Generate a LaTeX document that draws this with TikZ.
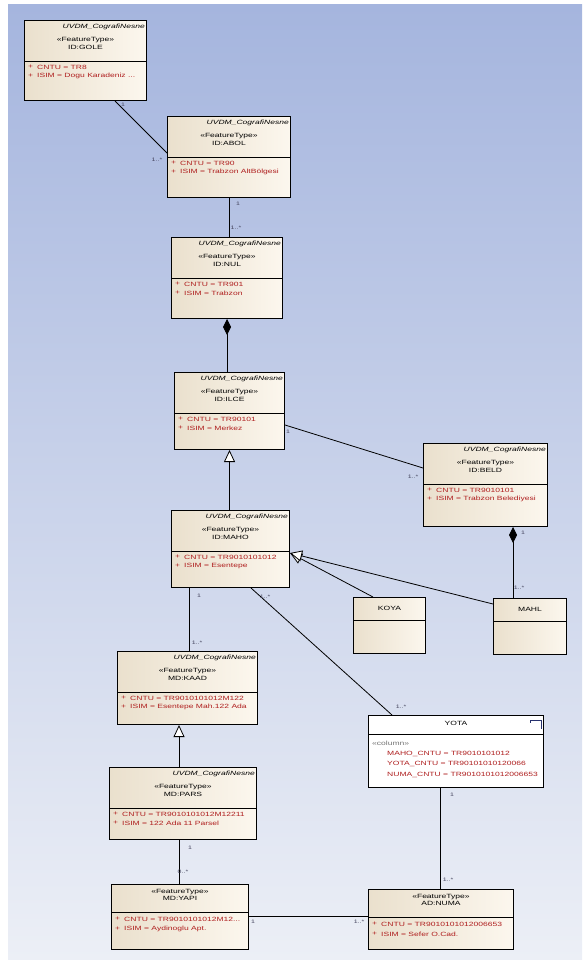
\documentclass[tikz,border=0pt]{standalone}
\usepackage{fontspec}
\setmainfont{Liberation Sans}
\newfontfamily\umlf[FakeStretch=1.4]{Liberation Sans}
\usetikzlibrary{arrows.meta,calc}
\definecolor{bgtop}{RGB}{165,181,222}
\definecolor{bgbot}{RGB}{236,239,246}
\definecolor{boxl}{RGB}{234,224,205}
\definecolor{boxr}{RGB}{252,247,238}
\definecolor{attrc}{RGB}{175,30,30}
\definecolor{lblc}{RGB}{70,70,95}
\definecolor{iconc}{RGB}{40,50,110}
\tikzset{
  umlbox/.style={draw=black, line width=1pt, left color=boxl, right color=boxr, inner sep=0pt},
  plainbox/.style={draw=black, line width=1pt, fill=white, inner sep=0pt},
  txt/.style={font=\umlf\fontsize{6.1}{6.3}\selectfont, inner sep=0pt},
  hdr/.style={font=\umlf\itshape\fontsize{6.1}{6.3}\selectfont, inner sep=0pt},
  attrtxt/.style={txt, text=attrc},
  coltxt/.style={txt, text=black!55},
  mult/.style={font=\umlf\fontsize{5}{5}\selectfont, text=lblc, inner sep=0pt},
  conn/.style={draw=black, line width=0.8pt},
  comp/.style={conn, {Diamond[length=16pt,width=8pt]}-},
  gen/.style={conn, -{Triangle[length=12pt,width=11pt,fill=white]}},
}
% #1 name #2 x #3 y #4 w #5 h #6 id #7 attr1 #8 attr2
\newcommand\umlclass[8]{%
  \node[umlbox, anchor=north west, minimum width=#4pt, minimum height=#5pt] (#1) at (#2,#3) {};
  \draw[line width=0.8pt] ([yshift=-41pt]#1.north west) -- ([yshift=-41pt]#1.north east);
  \node[hdr, anchor=north east] (#1-h) at ([xshift=-2pt,yshift=-4pt]#1.north east) {UVDM\_CografiNesne};
  \node[txt] (#1-s) at ([yshift=-20pt]#1.north) {«FeatureType»};
  \node[txt] (#1-n) at ([yshift=-27pt]#1.north) {#6};
  \node[attrtxt, anchor=west] (#1-p1) at ([xshift=4pt,yshift=-47pt]#1.north west) {+};
  \node[attrtxt, anchor=west] (#1-a1) at ([xshift=13pt,yshift=-47pt]#1.north west) {#7};
  \node[attrtxt, anchor=west] (#1-p2) at ([xshift=4pt,yshift=-56pt]#1.north west) {+};
  \node[attrtxt, anchor=west] (#1-a2) at ([xshift=13pt,yshift=-56pt]#1.north west) {#8};
}
\newcommand\umlshort[8]{%
  \node[umlbox, anchor=north west, minimum width=#4pt, minimum height=#5pt] (#1) at (#2,#3) {};
  \draw[line width=0.8pt] ([yshift=-28pt]#1.north west) -- ([yshift=-28pt]#1.north east);
  \node[txt] (#1-s) at ([yshift=-8pt]#1.north) {«FeatureType»};
  \node[txt] (#1-n) at ([yshift=-14pt]#1.north) {#6};
  \node[attrtxt, anchor=west] (#1-p1) at ([xshift=4pt,yshift=-35pt]#1.north west) {+};
  \node[attrtxt, anchor=west] (#1-a1) at ([xshift=13pt,yshift=-35pt]#1.north west) {#7};
  \node[attrtxt, anchor=west] (#1-p2) at ([xshift=4pt,yshift=-45pt]#1.north west) {+};
  \node[attrtxt, anchor=west] (#1-a2) at ([xshift=13pt,yshift=-45pt]#1.north west) {#8};
}
\newcommand\umlempty[6]{%
  \node[umlbox, anchor=north west, minimum width=#4pt, minimum height=#5pt] (#1) at (#2,#3) {};
  \draw[line width=0.8pt] ([yshift=-23pt]#1.north west) -- ([yshift=-23pt]#1.north east);
  \node[txt] (#1-n) at ([yshift=-11pt]#1.north) {#6};
}
\begin{document}
\begin{tikzpicture}[x=1pt,y=-1pt]
\useasboundingbox (0,0) rectangle (582,960);
\fill[white] (0,0) rectangle (582,960);
\shade[top color=bgtop, bottom color=bgbot] (8,5) rectangle (582,960);

\umlclass{gole}{24}{20}{122}{80}{ID:GOLE}{CNTU = TR8}{ISIM = Dogu Karadeniz ...}
\umlclass{abol}{167}{116}{123}{81}{ID:ABOL}{CNTU = TR90}{ISIM = Trabzon AltBölgesi}
\umlclass{nul}{171}{237}{111}{81}{ID:NUL}{CNTU = TR901}{ISIM = Trabzon}
\umlclass{ilce}{174}{372}{110}{77}{ID:ILCE}{CNTU = TR90101}{ISIM = Merkez}
\umlclass{beld}{423}{443}{124}{83}{ID:BELD}{CNTU = TR9010101}{ISIM = Trabzon Belediyesi}
\umlclass{maho}{171}{510}{118}{77}{ID:MAHO}{CNTU = TR9010101012}{ISIM = Esentepe}
\umlclass{kaad}{117}{651}{140}{73}{MD:KAAD}{CNTU = TR9010101012M122}{ISIM = Esentepe Mah.122 Ada}
\umlclass{pars}{109}{767}{147}{72}{MD:PARS}{CNTU = TR9010101012M12211}{ISIM = 122 Ada 11 Parsel}
\umlshort{yapi}{111}{884}{137}{65}{MD:YAPI}{CNTU = TR9010101012M12...}{ISIM = Aydinoglu Apt.}
\umlshort{numa}{368}{889}{145}{60}{AD:NUMA}{CNTU = TR9010101012006653}{ISIM = Sefer O.Cad.}
\umlempty{koya}{353}{597}{72}{56}{KOYA}
\umlempty{mahl}{493}{598}{73}{56}{MAHL}

% YOTA table
\node[plainbox, anchor=north west, minimum width=175pt, minimum height=72pt] (yota) at (368,715) {};
\draw[line width=0.8pt] ([yshift=-19pt]yota.north west) -- ([yshift=-19pt]yota.north east);
\node[txt] (yota-n) at ([yshift=-8pt]yota.north) {YOTA};
\draw[iconc, line width=0.9pt] ([xshift=-14pt,yshift=-5pt]yota.north east) -- ([xshift=-3pt,yshift=-5pt]yota.north east) -- ([xshift=-3pt,yshift=-14pt]yota.north east);
\draw[iconc, line width=0.5pt] ([xshift=-14pt,yshift=-5pt]yota.north east) -- ([xshift=-14pt,yshift=-8pt]yota.north east);
\node[coltxt, anchor=west] (yota-c) at ([xshift=4pt,yshift=-28pt]yota.north west) {«column»};
\node[attrtxt, anchor=west] (yota-a1) at ([xshift=19pt,yshift=-39pt]yota.north west) {MAHO\_CNTU = TR9010101012};
\node[attrtxt, anchor=west] (yota-a2) at ([xshift=19pt,yshift=-49pt]yota.north west) {YOTA\_CNTU = TR90101010120066};
\node[attrtxt, anchor=west] (yota-a3) at ([xshift=19pt,yshift=-60pt]yota.north west) {NUMA\_CNTU = TR9010101012006653};

% connectors
\draw[conn] ([xshift=91pt]gole.south west) -- ([yshift=-37pt]abol.north west);
\draw[conn] (abol.south) -- (abol.south |- nul.north);
\draw[comp] (nul.south) -- (nul.south |- ilce.north);
\draw[gen] (ilce.south |- maho.north) -- (ilce.south);
\draw[conn] ([yshift=-53pt]ilce.north east) -- ([yshift=-25pt]beld.north west);
\draw[comp] ([xshift=90pt]beld.south west) -- ([xshift=20pt]mahl.north west);
\draw[gen] ([xshift=20pt]koya.north west) -- ([yshift=-43pt]maho.north east);
\draw[gen] ([yshift=-6pt]mahl.north west) -- ([yshift=-43pt]maho.north east);
\draw[conn] ([xshift=18pt]maho.south west) -- ([xshift=72pt]kaad.north west);
\draw[conn] ([xshift=80pt]maho.south west) -- ([xshift=24pt]yota.north west);
\draw[gen] ([xshift=70pt]pars.north west) -- ([xshift=62pt]kaad.south west);
\draw[conn] ([xshift=70pt]pars.south west) -- ([xshift=68pt]yapi.north west);
\draw[conn] ([yshift=-32pt]yapi.north east) -- ([yshift=-27pt]numa.north west);
\draw[conn] ([xshift=72pt]yota.south west) -- ([xshift=72pt]numa.north west);

% multiplicities
\node[mult] (m1) at (123,105) {1};
\node[mult] (m2) at (157,160) {1..*};
\node[mult] (m3) at (238,204) {1};
\node[mult] (m4) at (236,228) {1..*};
\node[mult] (m5) at (288,432) {1};
\node[mult] (m6) at (413,477) {1..*};
\node[mult] (m7) at (523,533) {1};
\node[mult] (m8) at (519,588) {1..*};
\node[mult] (m9) at (199,596) {1};
\node[mult] (m10) at (197,643) {1..*};
\node[mult] (m11) at (265,597) {1..*};
\node[mult] (m12) at (401,707) {1..*};
\node[mult] (m13) at (190,848) {1};
\node[mult] (m14) at (183,872) {0..*};
\node[mult] (m15) at (253,922) {1};
\node[mult] (m16) at (359,922) {1..*};
\node[mult] (m17) at (452,795) {1};
\node[mult] (m18) at (448,880) {1..*};
\end{tikzpicture}
\end{document}
